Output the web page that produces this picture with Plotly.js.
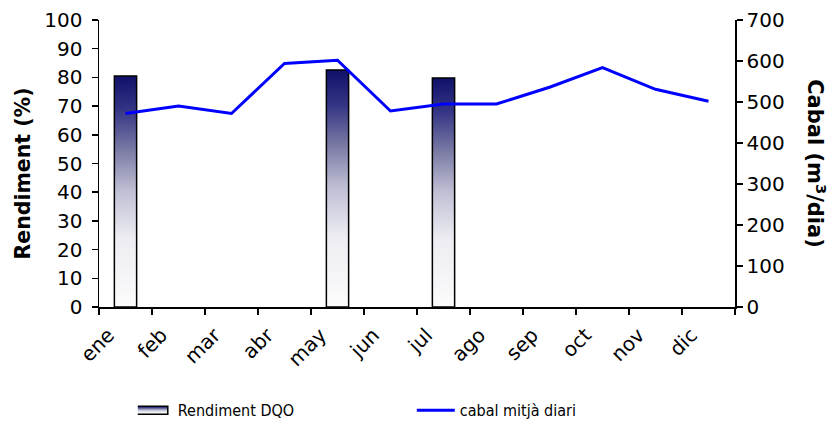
<!DOCTYPE html>
<html>
<head>
<meta charset="utf-8">
<script src="https://cdn.plot.ly/plotly-3.0.1.min.js"></script>
<style>html,body{margin:0;padding:0;background:#fff;}#chart{width:830px;height:428px;}</style>
</head>
<body>
<div id="chart"></div>
<script>
const months = ["ene","feb","mar","abr","may","jun","jul","ago","sep","oct","nov","dic"];
const rendimentDQO = [80.5, null, null, null, 82.6, null, 79.8, null, null, null, null, null];
const cabalMitjaDiari = [472, 490, 472, 594, 602, 478, 495, 495, 536, 584, 531, 502];

const FONT = "DejaVu Sans, Verdana, sans-serif";

const traces = [
  {
    type: "bar",
    name: "Rendiment DQO",
    x: months,
    y: rendimentDQO,
    width: 0.42,
    marker: {color: "#7a7aa5", line: {color: "#000", width: 1.5}},
    yaxis: "y",
    hoverinfo: "skip"
  },
  {
    type: "scatter",
    mode: "lines",
    name: "cabal mitjà diari",
    x: months,
    y: cabalMitjaDiari,
    line: {color: "#0000ff", width: 3},
    yaxis: "y2",
    hoverinfo: "skip"
  }
];

const layout = {
  width: 830,
  height: 428,
  margin: {l: 99, r: 95, t: 20, b: 121, autoexpand: false},
  paper_bgcolor: "#fff",
  plot_bgcolor: "#fff",
  font: {family: FONT, size: 16, color: "#000"},
  showlegend: true,
  legend: {
    orientation: "h",
    x: 0.061, xanchor: "left",
    y: -0.36, yanchor: "middle",
    font: {family: "DejaVu Sans Condensed, DejaVu Sans, sans-serif", size: 16, color: "#000"},
    entrywidth: 237,
    traceorder: "normal"
  },
  xaxis: {
    type: "category",
    automargin: false,
    tickangle: -45,
    tickson: "boundaries",
    ticks: "outside",
    ticklen: 6,
    tickcolor: "#000",
    tickwidth: 1.5,
    showline: true,
    linecolor: "#000",
    linewidth: 1.5,
    showgrid: false,
    zeroline: false,
    tickfont: {family: FONT, size: 20},
    ticklabelstandoff: 7,
    ticklabelshift: -17,
    fixedrange: true
  },
  yaxis: {
    automargin: false,
    range: [0, 100],
    dtick: 10,
    ticks: "outside",
    ticklen: 6,
    tickcolor: "#000",
    tickwidth: 1.5,
    showline: true,
    linecolor: "#000",
    linewidth: 1.5,
    showgrid: false,
    zeroline: false,
    tickfont: {family: FONT, size: 20},
    ticklabelstandoff: 5,
    title: {text: "Rendiment (%)", font: {family: FONT, size: 20.5, color: "#000", weight: "bold"}, standoff: 8}
  },
  yaxis2: {
    automargin: false,
    overlaying: "y",
    side: "right",
    range: [0, 700],
    dtick: 100,
    ticks: "outside",
    ticklen: 6,
    tickcolor: "#000",
    tickwidth: 1.5,
    showline: true,
    linecolor: "#000",
    linewidth: 1.5,
    showgrid: false,
    zeroline: false,
    tickfont: {family: FONT, size: 20},
    title: {text: "Cabal (m<sup>3</sup>/dia)", font: {family: FONT, size: 21, color: "#000", weight: "bold"}, standoff: 6}
  },
  yaxis3: {
    automargin: false,
    overlaying: "y",
    side: "right",
    anchor: "x",
    range: [0, 700],
    dtick: 100,
    ticks: "inside",
    ticklen: 6,
    tickcolor: "#000",
    tickwidth: 1.5,
    showticklabels: false,
    showline: false,
    showgrid: false,
    zeroline: false
  },
  bargap: 0.58
};

Plotly.newPlot("chart", traces, layout, {displayModeBar: false, staticPlot: true}).then(function (gd) {
  const svg = gd.querySelector(".main-svg");
  let defs = svg.querySelector("defs");
  const ns = "http://www.w3.org/2000/svg";
  const grad = document.createElementNS(ns, "linearGradient");
  grad.setAttribute("id", "dqoGrad");
  grad.setAttribute("x1", "0"); grad.setAttribute("y1", "0");
  grad.setAttribute("x2", "0"); grad.setAttribute("y2", "1");
  [["0%", "#10106a"], ["15%", "#363686"], ["32%", "#7a7aa5"], ["50%", "#c0c0d5"], ["70%", "#ececf2"], ["100%", "#fcfcfc"]].forEach(function (s) {
    const st = document.createElementNS(ns, "stop");
    st.setAttribute("offset", s[0]);
    st.setAttribute("stop-color", s[1]);
    grad.appendChild(st);
  });
  defs.appendChild(grad);
  gd.querySelectorAll(".barlayer .point path").forEach(function (p) {
    p.style.fill = "url(#dqoGrad)";
  });
  // legend icons
  const legendItems = gd.querySelectorAll(".legend .traces");
  if (legendItems.length > 1) {
    const barIcon = legendItems[0].querySelector(".legendpoints path");
    if (barIcon) {
      barIcon.setAttribute("d", "M-32,-4h42v8h-42Z");
      barIcon.style.fill = "url(#dqoGrad)";
    }
    const lineIcon = legendItems[1].querySelector(".legendlines path");
    if (lineIcon) lineIcon.setAttribute("d", "M-3,0h38");
  }
  // left title sits a little below the axis middle
  const t1 = gd.querySelector(".g-ytitle text");
  if (t1) {
    t1.setAttribute("transform", "translate(0,10) " + (t1.getAttribute("transform") || ""));
  }
  // right-hand title reads top to bottom
  const t2 = gd.querySelector(".g-y2title text");
  if (t2) {
    const tr = t2.getAttribute("transform") || "";
    t2.setAttribute("transform", tr.replace("rotate(-90", "rotate(90"));
  }
});
</script>
</body>
</html>
